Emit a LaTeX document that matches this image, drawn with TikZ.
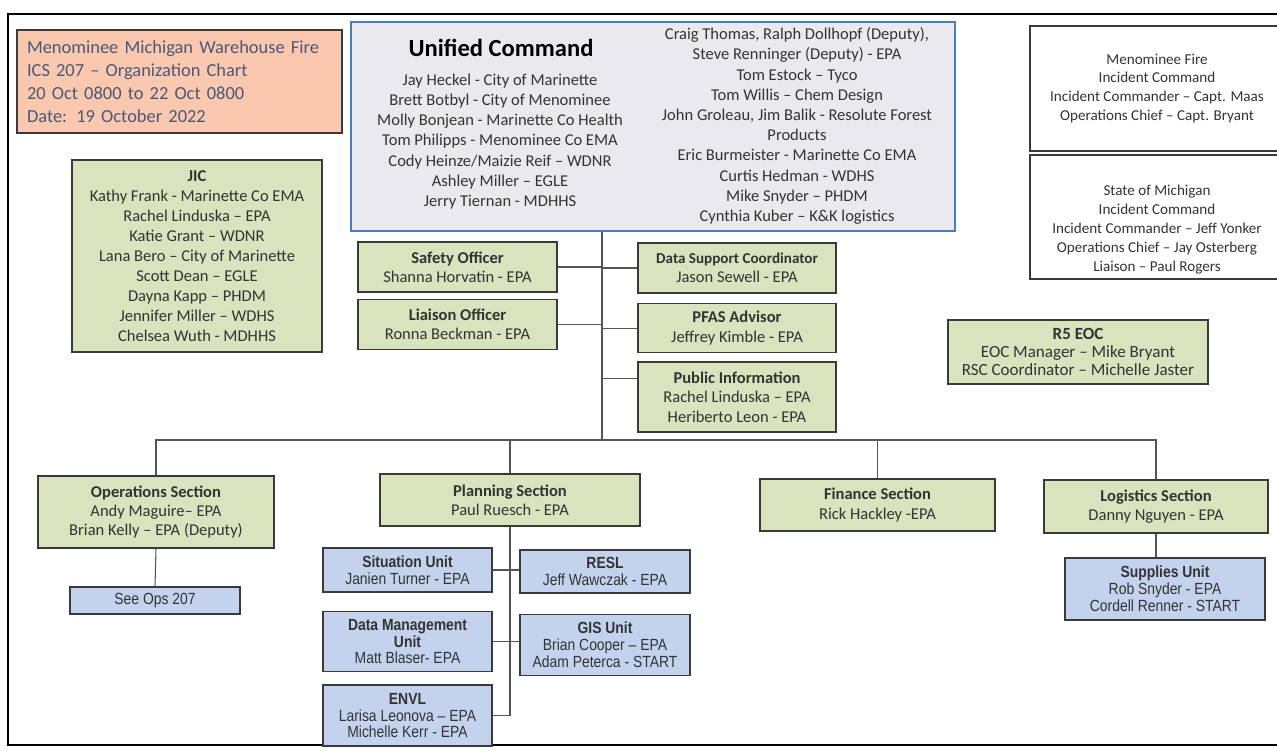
\documentclass[tikz,border=0pt]{standalone}
\usepackage{fontspec}
\setmainfont{Carlito}
\newfontfamily\arlfont[FakeStretch=0.86]{Liberation Sans}
\usetikzlibrary{positioning}
\definecolor{grnfill}{HTML}{D7E4BD}
\definecolor{blufill}{HTML}{C3D3EE}
\definecolor{orgfill}{HTML}{F9C8AE}
\definecolor{ucfill}{HTML}{EAEAEE}
\definecolor{ucedge}{HTML}{4A7EBB}
\definecolor{boxedge}{HTML}{3A3A3A}
\definecolor{txtgray}{HTML}{333333}
\definecolor{ttlblue}{HTML}{4B5878}
\definecolor{linkgray}{HTML}{555555}
\tikzset{
  frame/.style={draw=black, line width=1.1pt},
  grnbox/.style={draw=boxedge, fill=grnfill, line width=0.9pt, align=center, inner sep=0pt, text=txtgray, font=\fontsize{9.4}{11}\selectfont},
  blubox/.style={draw=boxedge, fill=blufill, line width=0.9pt, align=center, inner sep=0pt, text=txtgray, font=\arlfont\fontsize{9.2}{9.6}\selectfont},
  whtext/.style={align=center, inner sep=0pt, text=txtgray, font=\fontsize{8.6}{10.8}\selectfont},
  whtbox/.style={whtext, draw=boxedge, fill=white, line width=0.7pt},
  uctext/.style={align=center, inner sep=0pt, text=txtgray, font=\fontsize{9.4}{11.5}\selectfont},
  ttlbox/.style={draw=boxedge, fill=orgfill, line width=1pt, align=left, inner xsep=0.2cm, text width=6.1cm, text=ttlblue, font=\fontsize{10.5}{13}\selectfont},
  ucbox/.style={draw=ucedge, fill=ucfill, line width=0.9pt},
  link/.style={draw=linkgray, line width=0.6pt},
}
\begin{document}
\begin{tikzpicture}[x=0.02cm, y=-0.02cm]
\useasboundingbox (0,0) rectangle (1277,750);
\draw[frame] (1277,14) -- (8,14) -- (8,745) -- (1277,745);

\node[ttlbox, minimum width=6.5cm, minimum height=2.06cm] (ttl) at (179.5,81.5) {Menominee Michigan Warehouse Fire\\ICS 207 – Organization Chart\\20 Oct 0800 to 22 Oct 0800\\Date: 19 October 2022};
\node[ucbox, minimum width=12.08cm, minimum height=4.18cm] (uc) at (653,126.5) {};
\node[font=\bfseries\fontsize{14}{16}\selectfont, text=black] (uct) at (501,48) {Unified Command};
\node[uctext] (ucl) at (500,141.5) {Jay Heckel - City of Marinette\\Brett Botbyl - City of Menominee\\Molly Bonjean - Marinette Co Health\\Tom Philipps - Menominee Co EMA\\Cody Heinze/Maizie Reif – WDNR\\Ashley Miller – EGLE\\Jerry Tiernan - MDHHS};
\node[uctext] (ucr) at (797,126) {Craig Thomas, Ralph Dollhopf (Deputy),\\Steve Renninger (Deputy) - EPA\\Tom Estock – Tyco\\Tom Willis – Chem Design\\John Groleau, Jim Balik - Resolute Forest\\Products\\Eric Burmeister - Marinette Co EMA\\Curtis Hedman - WDHS\\Mike Snyder – PHDM\\Cynthia Kuber – K\&K logistics};
\node[whtbox, minimum width=5.08cm, minimum height=2.5cm] (mf) at (1157,88.5) {Menominee Fire\\Incident Command\\Incident Commander – Capt. Maas\\Operations Chief – Capt. Bryant};
\node[whtbox, minimum width=5.08cm, minimum height=2.48cm] (smi) at (1157,217) {};
\node[whtext] (smit) at (1157,229.5) {State of Michigan\\Incident Command\\Incident Commander –  Jeff Yonker\\Operations Chief – Jay Osterberg\\Liaison – Paul Rogers};
\node[grnbox, minimum width=5cm, minimum height=3.84cm, font=\fontsize{9.4}{11.4}\selectfont] (jic) at (197,256) {\textbf{JIC}\\Kathy Frank -  Marinette Co EMA\\Rachel Linduska  – EPA\\Katie Grant – WDNR\\Lana Bero – City of Marinette\\Scott Dean – EGLE\\Dayna Kapp – PHDM\\Jennifer Miller – WDHS\\Chelsea Wuth - MDHHS};
\node[grnbox, minimum width=3.98cm, minimum height=1cm] (so) at (457.5,267) {\textbf{Safety Officer}\\Shanna Horvatin -  EPA};
\node[grnbox, minimum width=3.98cm, minimum height=1cm, below=0.12cm of so] (lo) {\textbf{Liaison Officer}\\Ronna Beckman - EPA};
\node[grnbox, minimum width=3.96cm, minimum height=1cm] (ds) at (737,268) {{\fontsize{8.6}{11}\selectfont\textbf{Data Support Coordinator}}\\Jason Sewell - EPA};
\node[grnbox, minimum width=3.96cm, minimum height=0.98cm, below=0.18cm of ds] (pf) {\textbf{PFAS Advisor}\\Jeffrey Kimble -  EPA};
\node[grnbox, minimum width=3.96cm, minimum height=1.4cm, below=0.16cm of pf] (pi) {\textbf{Public Information}\\Rachel Linduska – EPA\\Heriberto Leon - EPA};
\node[grnbox, minimum width=5.2cm, minimum height=1.28cm, font=\fontsize{9.7}{10.3}\selectfont] (eoc) at (1078,352) {\textbf{R5 EOC}\\EOC Manager – Mike Bryant\\RSC Coordinator – Michelle Jaster};
\coordinate (bus) at (602,440);
\node[grnbox, minimum width=4.72cm, minimum height=1.44cm] (ops) at (156,512) {\textbf{Operations Section}\\Andy Maguire– EPA\\Brian Kelly – EPA (Deputy)};
\node[grnbox, minimum width=5.2cm, minimum height=1.04cm] (ps) at (510,500) {\textbf{Planning Section}\\Paul Ruesch - EPA};
\node[grnbox, minimum width=4.7cm, minimum height=1.04cm] (fs) at (877.5,505) {\textbf{Finance Section}\\Rick Hackley -EPA};
\node[grnbox, minimum width=4.48cm, minimum height=1.06cm] (ls) at (1156,506.5) {\textbf{Logistics Section}\\Danny Nguyen - EPA};
\node[blubox, minimum width=3.4cm, minimum height=0.54cm] (sop) at (155,600.5) {See Ops 207};
\node[blubox, minimum width=3.38cm, minimum height=0.88cm] (sit) at (407.5,570) {\textbf{Situation Unit}\\Janien Turner - EPA};
\node[blubox, minimum width=3.4cm, minimum height=0.86cm] (resl) at (605,571.5) {\textbf{RESL}\\Jeff Wawczak - EPA};
\node[blubox, minimum width=3.38cm, minimum height=1.2cm, below=0.36cm of sit] (dm) {\textbf{Data Management}\\\textbf{Unit}\\Matt Blaser- EPA};
\node[blubox, minimum width=3.4cm, minimum height=1.22cm, below=0.4cm of resl] (gis) {\textbf{GIS Unit}\\Brian Cooper – EPA\\Adam Peterca - START};
\node[blubox, minimum width=3.38cm, minimum height=1.22cm, below=0.24cm of dm] (env) {\textbf{ENVL}\\Larisa Leonova – EPA\\Michelle Kerr - EPA};
\node[blubox, minimum width=4cm, minimum height=1.24cm] (su) at (1165,589) {\textbf{Supplies Unit}\\Rob Snyder - EPA\\Cordell Renner - START};

\draw[link] (uc.south -| bus) -- (bus);
\draw[link] (so.east) -- (so.east -| bus);
\draw[link] (lo.east) -- (lo.east -| bus);
\draw[link] (bus |- ds.west) -- (ds.west);
\draw[link] (bus |- pf.west) -- (pf.west);
\path ([yshift=0.38cm]pi.west) coordinate (pin);
\draw[link] (bus |- pin) -- (pin);
\draw[link] (ops.north) |- (bus) -| (ls.north);
\draw[link] (ps.north) -- (ps.north |- bus);
\draw[link] (fs.north) -- (fs.north |- bus);
\draw[link] (ops.south) -- (sop.north);
\draw[link] (ps.south) -- (ps.south |- env.east);
\draw[link] (sit.east) -- (sit.east -| resl.west);
\draw[link] (dm.east) -- (dm.east -| gis.west);
\draw[link] (env.east) -- (env.east -| ps.south);
\draw[link] (ls.south) -- (ls.south |- su.north);
\end{tikzpicture}
\end{document}
